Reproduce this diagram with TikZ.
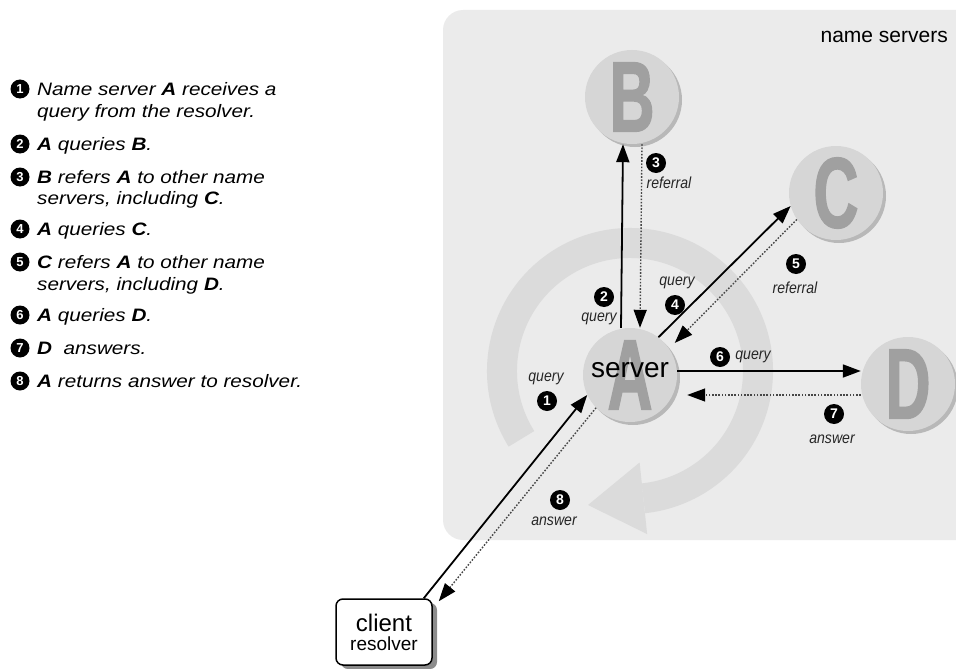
\documentclass[tikz,border=0pt]{standalone}
\usepackage{fontspec}
\setmainfont{Liberation Sans}
\newfontfamily\condfont[FakeStretch=0.62, FakeBold=1.5]{Liberation Sans}
\newfontfamily\narrowfont[FakeStretch=0.88]{Liberation Sans}
\newfontfamily\listfont[FakeStretch=1.15]{Liberation Sans}
\usetikzlibrary{arrows.meta, shadows}
\definecolor{panelgray}{RGB}{235,235,235}
\definecolor{ringgray}{RGB}{219,219,219}
\definecolor{discgray}{RGB}{214,214,214}
\definecolor{shadegray}{RGB}{184,184,184}
\definecolor{lettergray}{RGB}{160,160,160}
\definecolor{dotgray}{RGB}{70,70,70}

\begin{document}
\begin{tikzpicture}[x=1pt, y=-1pt,
    num/.style={circle, fill=black, text=white, inner sep=0pt, minimum size=19pt, font=\fontsize{13}{13}\selectfont\bfseries},
    item/.style={anchor=base west, inner sep=0pt, font=\listfont\fontsize{18}{22}\selectfont\itshape},
    tag/.style={circle, fill=black, text=white, inner sep=0pt, minimum size=20pt, font=\fontsize{14}{14}\selectfont\bfseries},
    lbl/.style={inner sep=0pt, text=black!85, font=\narrowfont\itshape\fontsize{16}{16}\selectfont},
    nsrv/.style={circle, fill=discgray, minimum size=94pt, inner sep=0pt, text=lettergray,
        font=\condfont\bfseries\fontsize{100}{100}\selectfont,
        drop shadow={shadow xshift=3pt, shadow yshift=-3pt, fill=shadegray, opacity=1}},
    qarrow/.style={-{Triangle[length=18pt, width=13pt]}, line width=1.8pt},
    rarrow/.style={-{Triangle[length=18pt, width=13pt, color=black]}, line width=1.4pt, dotgray, dash pattern=on 1.6pt off 1.6pt}
]
    \useasboundingbox (0,0) rectangle (956,669);

    % Steps
    \node[num] (n1) at (20,89) {1};
    \node[item] (t1) at (37,95.5) {Name server \textbf{A} receives a};
    \node[item] (t1b) at (37,117.5) {query from the resolver.};
    \node[num] (n2) at (20,144) {2};
    \node[item] (t2) at (37,150.5) {\textbf{A} queries \textbf{B}.};
    \node[num] (n3) at (20,177) {3};
    \node[item] (t3) at (37,183.5) {\textbf{B} refers \textbf{A} to other name};
    \node[item] (t3b) at (37,204.5) {servers, including \textbf{C}.};
    \node[num] (n4) at (20,229) {4};
    \node[item] (t4) at (37,235.5) {\textbf{A} queries \textbf{C}.};
    \node[num] (n5) at (20,262) {5};
    \node[item] (t5) at (37,268.5) {\textbf{C} refers \textbf{A} to other name};
    \node[item] (t5b) at (37,290.5) {servers, including \textbf{D}.};
    \node[num] (n6) at (20,315) {6};
    \node[item] (t6) at (37,321.5) {\textbf{A} queries \textbf{D}.};
    \node[num] (n7) at (20,348) {7};
    \node[item] (t7) at (37,354.5) {\textbf{D}\ \ answers.};
    \node[num] (n8) at (20,381) {8};
    \node[item] (t8) at (37,387.5) {\textbf{A} returns answer to resolver.};

    % Name server area
    \fill[panelgray, rounded corners=20pt] (443,10) rectangle (990,540);
    \node[anchor=east, inner sep=0pt, font=\fontsize{21}{21}\selectfont] (title) at (948,37) {name servers};

    % Round arrow behind A
    \begin{scope}[shift={(630,371)}, y=1pt]
        \draw[line width=30pt, ringgray] (212:128) arc[start angle=212, end angle=-84, radius=128];
        \fill[ringgray] (-84:92) -- (-84:164) -- (-42,-134) -- cycle;
    \end{scope}

    % Servers
    \node[nsrv] (B) at (632,97) {B};
    \node[nsrv] (C) at (836,193) {C};
    \node[nsrv] (A) at (630,375) {A};
    \node[nsrv] (D) at (908,384) {D};
    \node[inner sep=0pt, font=\fontsize{28}{28}\selectfont] (srv) at (630,370) {server};

    % Client
    \node[draw, line width=1.5pt, rounded corners=7pt, fill=white, minimum width=96pt, minimum height=66pt,
        align=center, inner sep=0pt,
        drop shadow={shadow xshift=5pt, shadow yshift=-4pt, fill=black!45, opacity=1}]
        (client) at (384,632) {{\fontsize{24}{26}\selectfont client}\\[4pt]{\fontsize{19}{21}\selectfont resolver}};

    % Queries and answers
    \draw[qarrow] ([xshift=-9]client.north east) -- (A.205);
    \draw[rarrow] (A.224) -- ([shift={(6,3)}]client.north east);
    \draw[qarrow] ([xshift=-9]A.north) -- ([xshift=-9]B.south);
    \draw[rarrow] ([xshift=10]B.south) -- ([xshift=10]A.north);
    \draw[qarrow] (A.53) -- (C.196);
    \draw[rarrow, shorten >=8pt] (C.214) -- (A.34);
    \draw[qarrow] ([yshift=4]A.east) -- ([yshift=4]A.east -| D.west);
    \draw[rarrow, shorten >=10pt] ([yshift=-11]D.west) -- ([yshift=-11]D.west -| A.east);

    % Labels
    \node[tag] (s1) at (547,401) {1};
    \node[lbl] (l1) at (546,379) {query};
    \node[tag] (s2) at (604,297) {2};
    \node[lbl] (l2) at (599,319) {query};
    \node[tag] (s3) at (656,163) {3};
    \node[lbl] (l3) at (669,183) {referral};
    \node[lbl] (l4) at (677,283) {query};
    \node[tag] (s4) at (675,305) {4};
    \node[tag] (s5) at (796,264) {5};
    \node[lbl] (l5) at (795,288) {referral};
    \node[tag] (s6) at (720,357) {6};
    \node[lbl] (l6) at (753,357) {query};
    \node[tag] (s7) at (834,414) {7};
    \node[lbl] (l7) at (832,439) {answer};
    \node[tag] (s8) at (560,500) {8};
    \node[lbl] (l8) at (554,521) {answer};
\end{tikzpicture}
\end{document}
